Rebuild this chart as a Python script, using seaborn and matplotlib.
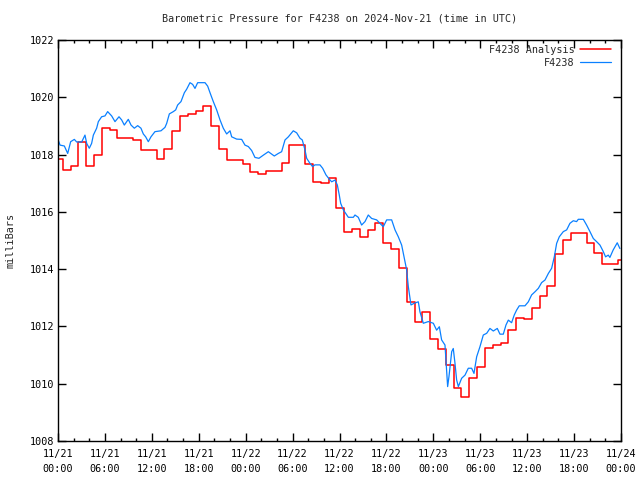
import matplotlib
matplotlib.use("Agg")
import matplotlib.pyplot as plt
from matplotlib.ticker import MultipleLocator, FixedLocator
import seaborn as sns

# ---- data (hours since 2024-11-21 00:00 UTC) ----
red_hours = [0, 0.6, 1.6, 2.6, 3.6, 4.6, 5.6, 6.6, 7.6, 8.6, 9.6, 10.6, 11.6, 12.6,
             13.6, 14.6, 15.6, 16.6, 17.6, 18.6, 19.6, 20.6, 21.6, 22.6, 23.6, 24.6,
             25.6, 26.6, 27.6, 28.6, 29.6, 30.6, 31.6, 32.6, 33.6, 34.6, 35.6, 36.6,
             37.6, 38.6, 39.6, 40.6, 41.6, 42.6, 43.6, 44.6, 45.6, 46.6, 47.6, 48.6,
             49.6, 50.6, 51.6, 52.6, 53.6, 54.6, 55.6, 56.6, 57.6, 58.6, 59.6, 60.6,
             61.6, 62.6, 63.6, 64.6, 65.6, 66.6, 67.6, 68.6, 69.6, 70.6, 71.6, 72.0]
red_mb = [1017.83, 1017.46, 1017.60, 1018.45, 1017.60, 1017.98, 1018.92, 1018.85,
          1018.57, 1018.57, 1018.50, 1018.16, 1018.16, 1017.85, 1018.18, 1018.82,
          1019.35, 1019.42, 1019.52, 1019.70, 1019.00, 1018.18, 1017.81, 1017.81,
          1017.67, 1017.38, 1017.31, 1017.43, 1017.43, 1017.69, 1018.33, 1018.33,
          1017.66, 1017.05, 1017.00, 1017.17, 1016.12, 1015.28, 1015.39, 1015.11,
          1015.37, 1015.60, 1014.90, 1014.72, 1014.03, 1012.87, 1012.17, 1012.52,
          1011.56, 1011.21, 1010.66, 1009.85, 1009.55, 1010.19, 1010.58, 1011.24,
          1011.35, 1011.41, 1011.87, 1012.28, 1012.26, 1012.66, 1013.07, 1013.41,
          1014.53, 1015.02, 1015.25, 1015.25, 1014.93, 1014.58, 1014.18, 1014.18,
          1014.32, 1014.32]

blue_hours = [0.0, 0.26, 0.81, 1.24, 1.62, 2.09, 2.39, 3.03, 3.45, 3.67, 4.0, 4.3,
              4.52, 4.94, 5.16, 5.58, 6.01, 6.35, 6.86, 7.29, 7.8, 8.14, 8.48, 8.99,
              9.34, 9.76, 10.19, 10.61, 10.91, 11.21, 11.55, 11.89, 12.4, 13.17, 13.68,
              13.9, 14.24, 14.75, 15.05, 15.3, 15.73, 16.16, 16.45, 16.88, 17.22, 17.52,
              17.86, 18.8, 19.14, 19.44, 19.86, 20.29, 20.72, 21.14, 21.57, 22.0, 22.21,
              22.85, 23.49, 23.91, 24.34, 24.77, 25.19, 25.7, 26.26, 26.9, 27.66, 28.18,
              28.6, 29.03, 29.46, 30.09, 30.52, 30.95, 31.24, 31.59, 31.8, 32.23, 32.56,
              32.86, 33.5, 33.85, 34.27, 34.7, 35.0, 35.42, 35.72, 35.97, 36.15, 36.49,
              37.13, 37.77, 37.98, 38.4, 38.83, 39.26, 39.68, 40.11, 40.75, 41.18, 41.6,
              42.03, 42.67, 43.1, 43.52, 43.95, 44.25, 44.59, 44.8, 45.14, 45.57, 46.08,
              46.29, 46.72, 47.36, 48.0, 48.42, 48.77, 49.06, 49.49, 49.7, 49.83, 50.0,
              50.35, 50.55, 50.77, 50.98, 51.2, 51.62, 52.05, 52.47, 52.9, 53.2, 53.54,
              53.96, 54.39, 54.82, 55.24, 55.67, 56.18, 56.52, 56.95, 57.29, 57.59,
              58.01, 58.35, 58.65, 58.99, 59.72, 60.15, 60.57, 61.0, 61.43, 61.85,
              62.28, 62.71, 63.13, 63.47, 63.77, 64.11, 64.62, 65.05, 65.47, 65.9,
              66.32, 66.54, 67.18, 67.6, 68.03, 68.46, 68.88, 69.31, 69.74, 70.03,
              70.37, 70.58, 71.0, 71.52, 71.86]
blue_mb = [1018.53, 1018.33, 1018.30, 1018.04, 1018.45, 1018.53, 1018.44, 1018.44,
           1018.68, 1018.39, 1018.22, 1018.39, 1018.68, 1018.92, 1019.15, 1019.32,
           1019.35, 1019.50, 1019.35, 1019.15, 1019.32, 1019.21, 1019.03, 1019.23,
           1019.03, 1018.92, 1019.01, 1018.92, 1018.72, 1018.62, 1018.45, 1018.62,
           1018.80, 1018.83, 1018.95, 1019.09, 1019.42, 1019.50, 1019.56, 1019.73,
           1019.85, 1020.16, 1020.28, 1020.51, 1020.45, 1020.31, 1020.51, 1020.51,
           1020.39, 1020.16, 1019.85, 1019.56, 1019.21, 1018.92, 1018.72, 1018.83,
           1018.62, 1018.54, 1018.53, 1018.33, 1018.28, 1018.14, 1017.90, 1017.87,
           1017.98, 1018.10, 1017.95, 1018.04, 1018.10, 1018.51, 1018.62, 1018.83,
           1018.76, 1018.57, 1018.51, 1018.16, 1017.87, 1017.69, 1017.58, 1017.64,
           1017.64, 1017.52, 1017.29, 1017.14, 1017.05, 1017.11, 1016.94, 1016.59,
           1016.30, 1016.07, 1015.81, 1015.81, 1015.89, 1015.81, 1015.54, 1015.66,
           1015.89, 1015.77, 1015.72, 1015.60, 1015.48, 1015.72, 1015.72, 1015.37,
           1015.13, 1014.84, 1014.44, 1013.97, 1013.39, 1012.75, 1012.81, 1012.86,
           1012.51, 1012.11, 1012.17, 1012.11, 1011.87, 1011.99, 1011.53, 1011.35,
           1010.48, 1009.90, 1010.25, 1011.12, 1011.23, 1010.71, 1010.13, 1009.90,
           1010.19, 1010.30, 1010.54, 1010.54, 1010.36, 1010.94, 1011.29, 1011.70,
           1011.76, 1011.93, 1011.84, 1011.93, 1011.73, 1011.73, 1012.05, 1012.22,
           1012.13, 1012.40, 1012.57, 1012.72, 1012.72, 1012.86, 1013.10, 1013.21,
           1013.33, 1013.53, 1013.62, 1013.85, 1014.03, 1014.43, 1014.90, 1015.13,
           1015.31, 1015.37, 1015.60, 1015.69, 1015.66, 1015.74, 1015.74, 1015.54,
           1015.31, 1015.07, 1014.96, 1014.84, 1014.61, 1014.43, 1014.49, 1014.41,
           1014.67, 1014.92, 1014.72]

tick_hours = [0, 6, 12, 18, 24, 30, 36, 42, 48, 54, 60, 66, 72]
tick_labels = ["11/21\n00:00", "11/21\n06:00", "11/21\n12:00", "11/21\n18:00",
               "11/22\n00:00", "11/22\n06:00", "11/22\n12:00", "11/22\n18:00",
               "11/23\n00:00", "11/23\n06:00", "11/23\n12:00", "11/23\n18:00",
               "11/24\n00:00"]

title = "Barometric Pressure for F4238 on 2024-Nov-21 (time in UTC)"

# ---- style ----
sns.set_style("ticks")
plt.rcParams['font.family'] = ['DejaVu Sans Mono', 'DejaVu Sans']
FS = 7.3

fig = plt.figure(figsize=(6.4, 4.8), dpi=100)
ax = fig.add_axes([58/640, 1 - 441/480, (621 - 58)/640, (441 - 40)/480])

sns.lineplot(x=red_hours, y=red_mb, ax=ax, color="#ff0000", linewidth=1.1,
             drawstyle="steps-post", estimator=None, sort=False, label="F4238 Analysis")
sns.lineplot(x=blue_hours, y=blue_mb, ax=ax, color="#0a80ff", linewidth=0.9,
             estimator=None, sort=False, label="F4238")

ax.set_xlim(0, 72)
ax.set_ylim(1008, 1022)
ax.xaxis.set_major_locator(FixedLocator(tick_hours))
ax.set_xticklabels(tick_labels)
ax.xaxis.set_minor_locator(MultipleLocator(2))
ax.yaxis.set_major_locator(MultipleLocator(2))

ax.tick_params(axis="both", which="both", direction="in", top=True, right=True,
               colors="black", labelsize=FS, width=1.0)
ax.tick_params(axis="both", which="major", length=5.5, pad=3)
ax.tick_params(axis="both", which="minor", length=2.5)
ax.tick_params(axis="x", which="major", pad=5.5)
for lab in ax.get_xticklabels():
    lab.set_linespacing(1.65)

for sp in ax.spines.values():
    sp.set_visible(True)
    sp.set_color("black")
    sp.set_linewidth(1.0)

ax.set_xlabel("")
ax.set_ylabel("milliBars", fontsize=FS, labelpad=10)
ax.set_title(title, fontsize=FS, pad=13)

ax.legend(loc="upper right", bbox_to_anchor=(1.0, 1.013), frameon=False,
          markerfirst=False, handlelength=3.0, fontsize=FS, borderaxespad=0.6,
          labelspacing=0.3, handletextpad=0.6)

fig.savefig("out.png", dpi=100)
